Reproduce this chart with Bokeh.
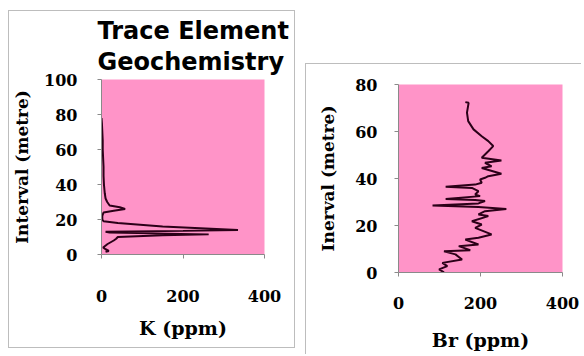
from bokeh.plotting import figure
from bokeh.models import Title, FixedTicker
from bokeh.embed import file_html
from bokeh.resources import INLINE

# ---- data ----
k_ppm = [0, 1, 2, 3, 3, 4, 5, 5, 6, 8, 10, 14, 20, 45, 58, 30, 5, 2, 2, 5, 40, 150, 335, 200, 10, 20, 263, 150, 40, 36, 30, 15, 4, 10, 18, 10]
k_depth = [78, 75, 70, 65, 60, 55, 50, 45, 40, 35, 32, 30, 28, 27, 26, 25, 24, 22, 20, 19, 18, 16, 14, 13.5, 13, 12.5, 11.5, 11, 10, 9, 8, 6, 4, 3, 2, 1.5]

br_ppm = [163, 171, 167, 170, 183, 203, 219, 231, 219, 203, 251, 211, 227, 203, 251, 219, 211, 199, 203, 187,
          115, 179, 195, 187, 199, 115, 187, 211, 195, 83, 195, 263, 211, 195, 219, 179, 203, 187, 227, 195,
          163, 195, 147, 175, 111, 139, 155, 107, 119, 99, 111]
br_depth = [72.5, 72.2, 68, 64.4, 60.9, 58, 55.9, 53.8, 51.6, 48.8, 47.7, 46.7, 45.2, 44.5, 42, 41, 40.3, 39.6, 38.2, 37.4,
            36.5, 36, 34.6, 33.2, 32.5, 31.3, 30.8, 30.4, 29.4, 28.5, 27.9, 27, 26.1, 24.7, 24, 21.8, 20.4, 19, 16.2, 14.8,
            14, 11.9, 11.2, 9.5, 9, 7.7, 5.5, 4.1, 2.7, 1.3, 0.1]

x_ticks = [0, 200, 400]
k_y_ticks = [0, 20, 40, 60, 80, 100]
br_y_ticks = [0, 20, 40, 60, 80]

PINK = "#FF94C8"
LINE = "#2b0018"
AXIS = "#8a8a8a"
BORDER = "#bdbdbd"
SERIF = "DejaVu Serif"


def style_axes(p, xstand, ystand, xlab_stand, ylab_stand):
    for ax in (p.xaxis[0], p.yaxis[0]):
        ax.axis_line_color = AXIS
        ax.major_tick_line_color = AXIS
        ax.major_tick_out = 4
        ax.major_tick_in = 0
        ax.minor_tick_line_color = None
        ax.major_label_text_font = SERIF
        ax.major_label_text_font_style = "bold"
        ax.major_label_text_font_size = "16px"
        ax.major_label_text_color = "black"
        ax.axis_label_text_font = SERIF
        ax.axis_label_text_font_style = "bold"
        ax.axis_label_text_color = "black"
    p.xaxis[0].axis_label_text_font_size = "19px"
    p.yaxis[0].axis_label_text_font_size = "17px"
    p.xaxis[0].major_label_standoff = xstand
    p.yaxis[0].major_label_standoff = ystand
    p.xaxis[0].axis_label_standoff = xlab_stand
    p.yaxis[0].axis_label_standoff = ylab_stand
    p.xgrid.grid_line_color = None
    p.ygrid.grid_line_color = None
    p.outline_line_color = None
    p.background_fill_color = PINK
    p.border_fill_color = "white"


# ---- left panel: K ----
p1 = figure(width=287, height=338, x_range=(0, 400), y_range=(0, 100),
            output_backend="svg", toolbar_location=None,
            min_border_left=88, min_border_right=32, min_border_top=68, min_border_bottom=95,
            styles={"position": "absolute", "left": "8px", "top": "10px",
                    "border": "1px solid " + BORDER})
p1.title.text = "Trace Element\nGeochemistry"
p1.title.text_font = "DejaVu Sans"
p1.title.text_font_style = "bold"
p1.title.text_font_size = "24px"
p1.title.text_color = "black"
p1.title.align = "left"
p1.title.offset = -4
p1.title.standoff = 7
p1.title.text_line_height = 1.1
p1.line(k_ppm, k_depth, line_color=LINE, line_width=2)
p1.xaxis.ticker = FixedTicker(ticks=x_ticks)
p1.yaxis.ticker = FixedTicker(ticks=k_y_ticks)
p1.xaxis.axis_label = "K (ppm)"
p1.yaxis.axis_label = "Interval (metre)"
style_axes(p1, 31, 20, 12, 9)

# ---- right panel: Br ----
p2 = figure(width=276, height=291, x_range=(0, 400), y_range=(0, 80),
            output_backend="svg", toolbar_location=None,
            min_border_left=92, min_border_right=20, min_border_top=20, min_border_bottom=83,
            styles={"position": "absolute", "left": "305px", "top": "63px",
                    "border-left": "1px solid " + BORDER, "border-top": "1px solid " + BORDER})
p2.line(br_ppm, br_depth, line_color=LINE, line_width=2)
p2.xaxis.ticker = FixedTicker(ticks=x_ticks)
p2.yaxis.ticker = FixedTicker(ticks=br_y_ticks)
p2.xaxis.axis_label = "Br (ppm)"
p2.yaxis.axis_label = "Inerval (metre)"
style_axes(p2, 20, 17, 17, 14)

open("out.html", "w").write(file_html([p1, p2], INLINE))
